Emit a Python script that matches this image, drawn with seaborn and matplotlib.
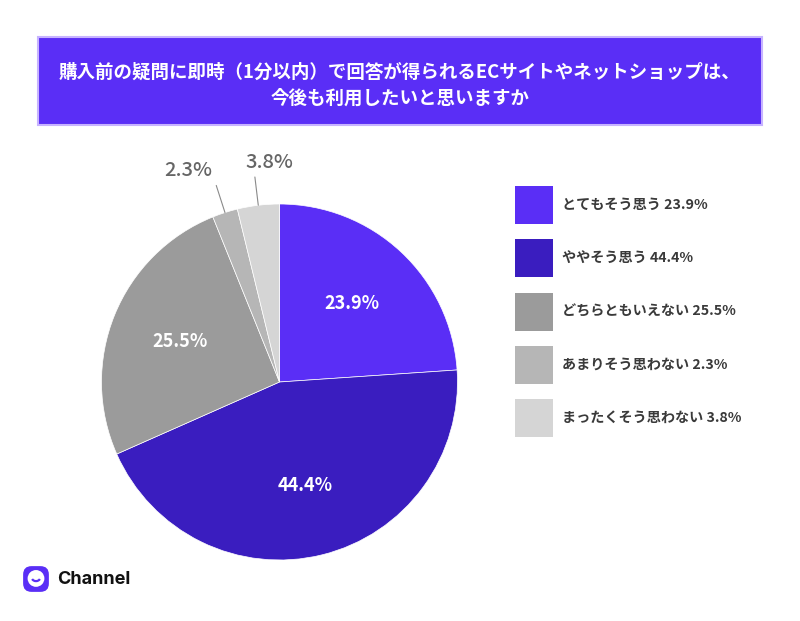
import numpy as np
import matplotlib
matplotlib.use("Agg")
import matplotlib.pyplot as plt
import seaborn as sns
from matplotlib.patches import Rectangle, FancyBboxPatch, Circle, Arc

# data
categories = ["とてもそう思う", "ややそう思う", "どちらともいえない", "あまりそう思わない", "まったくそう思わない"]
values = [23.9, 44.4, 25.5, 2.3, 3.8]
colors = ["#5a2ef6", "#3a1dbf", "#9b9b9b", "#b6b6b6", "#d5d5d5"]
title = "購入前の疑問に即時（1分以内）で回答が得られるECサイトやネットショップは、\n今後も利用したいと思いますか"

sns.set_theme(style="white")
plt.rcParams['font.family'] = ['Noto Sans CJK JP', 'DejaVu Sans']

W, H = 800, 621
fig = plt.figure(figsize=(8, 6.21), dpi=100)
fig.patch.set_facecolor("white")

# title banner
fig.patches.append(Rectangle((38 / W, 1 - 125 / H), 724 / W, 88 / H, transform=fig.transFigure,
                             facecolor="#5a2ef6", edgecolor="#c7b3ff", linewidth=1.5))
fig.text(0.5, 1 - 85 / H, title, ha="center", va="center", color="white",
         fontsize=13.3, fontweight="bold", linespacing=1.5)

# pie
cx, cy, r = 279.5, 382, 178
ax = fig.add_axes([(cx - r) / W, (H - cy - r) / H, 2 * r / W, 2 * r / H])
wedges, _ = ax.pie(values, colors=colors, startangle=90, counterclock=False,
                   wedgeprops=dict(linewidth=0.5, edgecolor="white"))
ax.set_xlim(-1, 1)
ax.set_ylim(-1, 1)
ax.set_aspect("equal")
ax.axis("off")

for w, v in zip(wedges, values):
    mid = np.deg2rad((w.theta1 + w.theta2) / 2)
    if v >= 10:
        ax.text(0.6 * np.cos(mid), 0.6 * np.sin(mid), f"{v}%", ha="center", va="center",
                color="white", fontsize=13, fontweight="bold")

# outside labels for the small slices
offsets = [-0.16, 0.08]
for w, v, dx in zip(wedges[3:], values[3:], offsets):
    mid = np.deg2rad((w.theta1 + w.theta2) / 2)
    x0, y0 = np.cos(mid), np.sin(mid)
    x1, y1 = 1.16 * x0, 1.16 * y0
    ax.plot([x0, x1], [y0, y1], color="#8a8a8a", linewidth=0.8, clip_on=False)
    ax.text(x1 + dx, y1 + 0.03, f"{v}%", ha="center", va="bottom", color="#666666",
            fontsize=14.5, fontweight="medium", clip_on=False)

# legend
labels = [f"{c} {v}%" for c, v in zip(categories, values)]
fs = 10.2
leg = ax.legend(wedges, labels, loc="upper left", bbox_to_anchor=(515 / W, 1 - 186 / H),
                bbox_transform=fig.transFigure, frameon=False, fontsize=fs,
                handlelength=2.68, handleheight=3.75, labelspacing=1.08,
                handletextpad=0.62, borderpad=0, borderaxespad=0)
for t in leg.get_texts():
    t.set_color("#3a3a3a")
    t.set_fontweight("bold")
for h in leg.legend_handles:
    h.set_linewidth(0)

# logo
lax = fig.add_axes([22 / W, (H - 593) / H, 28 / W, 28 / H])
lax.set_xlim(0, 1)
lax.set_ylim(0, 1)
lax.axis("off")
lax.add_patch(FancyBboxPatch((0.04, 0.04), 0.92, 0.92, boxstyle="round,pad=0,rounding_size=0.3",
                             facecolor="#5a2ef6", edgecolor="none"))
lax.add_patch(Circle((0.5, 0.52), 0.3, facecolor="white", edgecolor="none"))
lax.add_patch(Arc((0.5, 0.55), 0.3, 0.25, theta1=200, theta2=340, color="#5a2ef6", linewidth=1.6))
fig.text(57 / W, 1 - 579 / H, "Channel", ha="left", va="center", fontsize=13,
         fontweight="bold", color="#111111", family=["Inter", "DejaVu Sans"])

fig.savefig("out.png", dpi=100, facecolor="white")
